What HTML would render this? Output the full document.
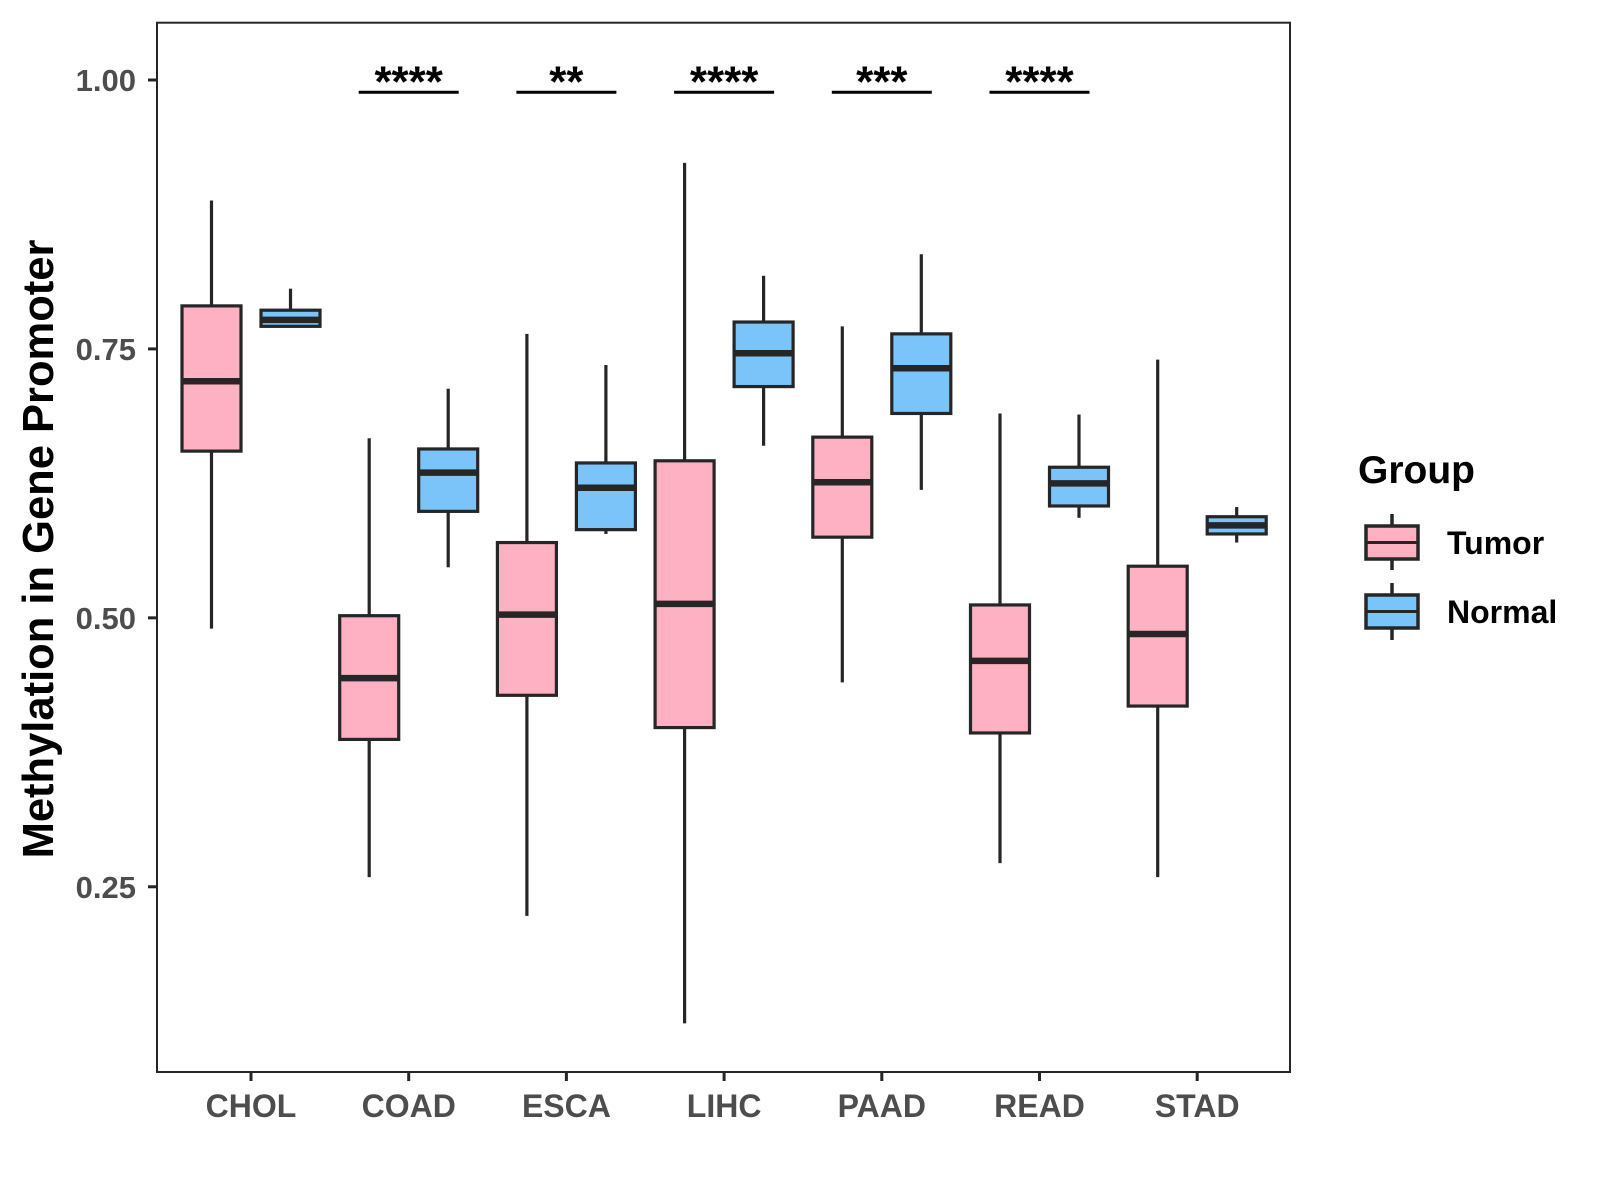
<!DOCTYPE html>
<html><head><meta charset="utf-8"><style>
html,body{margin:0;padding:0;background:#fff}
svg{display:block;font-family:"Liberation Sans",Arial,sans-serif}
</style></head><body>
<svg id="chart" width="1600" height="1200" viewBox="0 0 1600 1200" xmlns="http://www.w3.org/2000/svg">
<rect width="1600" height="1200" fill="#fff"/>
<g id="marks"></g>
<rect x="157" y="22.7" width="1133" height="1049.3" fill="none" stroke="#262626" stroke-width="2"/>
<g id="axes"></g>
<text transform="translate(53,549) rotate(-90)" text-anchor="middle" font-size="43.5" font-weight="bold" fill="#000">Methylation in Gene Promoter</text>
<g>
<text x="1358" y="483" font-size="39" font-weight="bold" fill="#000">Group</text>
<g>
<line x1="1392" y1="514" x2="1392" y2="570" stroke="#262626" stroke-width="3.5"/>
<rect x="1366" y="526" width="52" height="33" fill="#FFB1C4" stroke="#262626" stroke-width="3.5"/>
<line x1="1366" y1="542.5" x2="1418" y2="542.5" stroke="#262626" stroke-width="3"/>
<text x="1447" y="554" font-size="32" font-weight="bold" fill="#000">Tumor</text>
</g>
<g>
<line x1="1392" y1="583" x2="1392" y2="640" stroke="#262626" stroke-width="3.5"/>
<rect x="1366" y="595" width="52" height="33" fill="#7AC4FA" stroke="#262626" stroke-width="3.5"/>
<line x1="1366" y1="611.5" x2="1418" y2="611.5" stroke="#262626" stroke-width="3"/>
<text x="1447" y="623" font-size="32" font-weight="bold" fill="#000">Normal</text>
</g>
</g>
</svg>
<script>
const categories = ["CHOL","COAD","ESCA","LIHC","PAAD","READ","STAD"];
// [low, q1, median, q3, high]
const tumorStats = [
 [0.490,0.655,0.720,0.790,0.888],
 [0.259,0.387,0.444,0.502,0.667],
 [0.223,0.428,0.503,0.570,0.764],
 [0.123,0.398,0.513,0.646,0.923],
 [0.440,0.575,0.626,0.668,0.771],
 [0.272,0.393,0.460,0.512,0.690],
 [0.259,0.418,0.485,0.548,0.740]
];
const normalStats = [
 [0.771,0.771,0.777,0.786,0.806],
 [0.547,0.599,0.635,0.657,0.713],
 [0.578,0.582,0.621,0.644,0.735],
 [0.660,0.715,0.746,0.775,0.818],
 [0.619,0.690,0.732,0.764,0.838],
 [0.593,0.604,0.625,0.640,0.689],
 [0.570,0.578,0.586,0.594,0.603]
];
const sigLabels = ["", "****", "**", "****", "***", "****", ""];
const sigLevel = 0.9886;
const yTicks = [0.25, 0.50, 0.75, 1.00];
const yTickLabels = ["0.25","0.50","0.75","1.00"];

const NS="http://www.w3.org/2000/svg";
function y(v){ return 80 + (1 - v) * 1075.7; }
function x(i){ return 251 + 157.7 * i; }
const marks=document.getElementById('marks');
const axes=document.getElementById('axes');
function mk(tag, attrs, parent){
  const e=document.createElementNS(NS,tag);
  for(const k in attrs) e.setAttribute(k, attrs[k]);
  parent.appendChild(e); return e;
}
function drawBox(s, cx, fill, name){
  const g=mk('g',{},marks);
  
  
  const hw=29.5, st='#262626';
  mk('line',{x1:cx,x2:cx,y1:y(s[4]),y2:y(s[3]),stroke:st,'stroke-width':3.2},g);
  mk('line',{x1:cx,x2:cx,y1:y(s[1]),y2:y(s[0]),stroke:st,'stroke-width':3.2},g);
  mk('rect',{x:cx-hw,y:y(s[3]),width:2*hw,height:Math.max(0.5,y(s[1])-y(s[3])),fill:fill,stroke:st,'stroke-width':3.2},g);
  mk('line',{x1:cx-hw,x2:cx+hw,y1:y(s[2]),y2:y(s[2]),stroke:st,'stroke-width':6.5},g);
}
categories.forEach((c,i)=>{
  drawBox(tumorStats[i], x(i)-39.5, '#FFB1C4', 'box-tumor-'+c.toLowerCase());
  drawBox(normalStats[i], x(i)+39.5, '#7AC4FA', 'box-normal-'+c.toLowerCase());
  if(sigLabels[i]){
    const g=mk('g',{},marks);
    
    
    mk('line',{x1:x(i)-50,x2:x(i)+50,y1:y(sigLevel),y2:y(sigLevel),stroke:'#000','stroke-width':3},g);
    const t=mk('text',{x:x(i),y:y(sigLevel)+4,'text-anchor':'middle','font-size':44,'font-weight':'bold',fill:'#000'},g);
    t.textContent=sigLabels[i];
  }
  const tk=mk('line',{x1:x(i),x2:x(i),y1:1072,y2:1081,stroke:'#262626','stroke-width':3},axes);
  
  
  const lb=mk('text',{x:x(i),y:1117,'text-anchor':'middle','font-size':32,'font-weight':'bold',fill:'#4d4d4d'},axes);
  
  
  lb.textContent=c;
});
yTicks.forEach((v,i)=>{
  const tk=mk('line',{x1:148,x2:157,y1:y(v),y2:y(v),stroke:'#262626','stroke-width':3},axes);
  
  
  const lb=mk('text',{x:136,y:y(v)+11,'text-anchor':'end','font-size':31,'font-weight':'bold',fill:'#4d4d4d'},axes);
  
  
  lb.textContent=yTickLabels[i];
});
</script>
</body></html>
